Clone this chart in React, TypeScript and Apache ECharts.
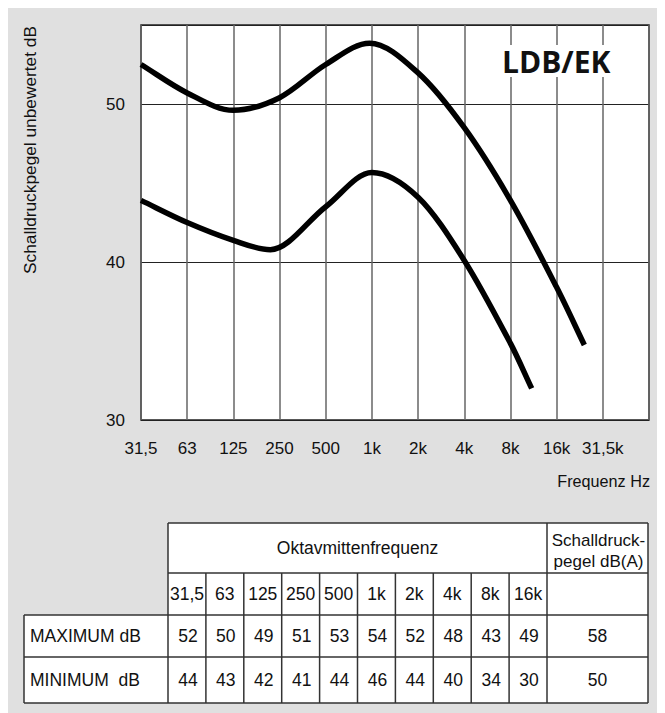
import React, { useEffect, useRef } from "react";
import * as echarts from "echarts";

// ---- data ----
const freqLabels = ["31,5", "63", "125", "250", "500", "1k", "2k", "4k", "8k", "16k", "31,5k", ""];
// curve points: [octave index, dB]
const maxCurve: [number, number][] = [
  [0, 52.5], [1, 50.7], [2, 49.6], [3, 50.4], [4, 52.5], [4.95, 53.85],
  [6, 51.97], [7, 48.5], [8, 43.9], [9, 38.4], [9.6, 34.75],
];
const minCurve: [number, number][] = [
  [0, 43.9], [1, 42.5], [2, 41.37], [2.8, 40.78], [4, 43.5], [5, 45.67],
  [6, 44.1], [7, 40.1], [8, 34.85], [8.46, 32.0],
];
const tableFreqs = ["31,5", "63", "125", "250", "500", "1k", "2k", "4k", "8k", "16k"];
const maxRow = [52, 50, 49, 51, 53, 54, 52, 48, 43, 49];
const minRow = [44, 43, 42, 41, 44, 46, 44, 40, 34, 30];
const dbA = [58, 50];
const rowLabels = ["MAXIMUM dB", "MINIMUM\u00a0\u00a0dB"];

const FONT = "'Liberation Sans', Arial, sans-serif";

// smooth cubic Hermite path through pixel points (x monotonic); flat tangent at extrema
function smoothPath(p: number[][]): string {
  const n = p.length;
  const sec: number[] = [];
  for (let i = 0; i < n - 1; i++) sec.push((p[i + 1][1] - p[i][1]) / (p[i + 1][0] - p[i][0]));
  const m: number[] = [];
  for (let i = 0; i < n; i++) {
    if (i === 0) m.push(sec[0]);
    else if (i === n - 1) m.push(sec[n - 2]);
    else if (sec[i - 1] * sec[i] <= 0) m.push(0);
    else m.push((p[i + 1][1] - p[i - 1][1]) / (p[i + 1][0] - p[i - 1][0]));
  }
  let d = `M${p[0][0]},${p[0][1]}`;
  for (let i = 0; i < n - 1; i++) {
    const h = p[i + 1][0] - p[i][0];
    const c1x = p[i][0] + h / 3, c1y = p[i][1] + (m[i] * h) / 3;
    const c2x = p[i + 1][0] - h / 3, c2y = p[i + 1][1] - (m[i + 1] * h) / 3;
    d += ` C${c1x},${c1y} ${c2x},${c2y} ${p[i + 1][0]},${p[i + 1][1]}`;
  }
  return d;
}

function curveSeries(points: [number, number][]) {
  return {
    type: "custom",
    data: points,
    z: 5,
    renderItem: (params: any, api: any) => {
      if (params.dataIndex !== 0) return null;
      const px = points.map((pt) => api.coord(pt));
      return {
        type: "path",
        shape: { pathData: smoothPath(px) },
        style: { stroke: "#000", lineWidth: 5.5, fill: null, lineCap: "butt", lineJoin: "round" },
      };
    },
  };
}

export default function App() {
  const ref = useRef<HTMLDivElement>(null);
  useEffect(() => {
    if (!ref.current) return;
    const chart = echarts.init(ref.current, undefined, { renderer: "svg" });

    // table layout (chart coords)
    const tL = 16, hL = 160, colW = 37.9, fEnd = 539, tR = 640;
    const y0 = 515, y1 = 565, y2 = 607, y3 = 649, y4 = 695;
    const lineStyle = { stroke: "#333", lineWidth: 1.5 };
    const g: any[] = [];
    g.push({ type: "rect", shape: { x: hL, y: y0, width: tR - hL, height: y2 - y0 }, style: { fill: "#fff" } });
    g.push({ type: "rect", shape: { x: tL, y: y2, width: tR - tL, height: y4 - y2 }, style: { fill: "#fff" } });
    const hline = (x1: number, x2: number, y: number) =>
      g.push({ type: "line", shape: { x1, y1: y, x2, y2: y }, style: lineStyle });
    const vline = (x: number, ya: number, yb: number) =>
      g.push({ type: "line", shape: { x1: x, y1: ya, x2: x, y2: yb }, style: lineStyle });
    hline(hL, tR, y0);
    hline(hL, tR, y1);
    hline(tL, tR, y2);
    hline(tL, tR, y3);
    hline(tL, tR, y4);
    vline(tL, y2, y4);
    vline(hL, y0, y4);
    vline(fEnd, y0, y4);
    vline(tR, y0, y4);
    for (let i = 1; i < tableFreqs.length; i++) vline(hL + i * colW, y1, y4);
    const txt = (text: string, x: number, y: number, align = "center", size = 17.5) =>
      g.push({
        type: "text",
        x, y,
        style: { text, fill: "#111", font: `${size}px ${FONT}`, align, verticalAlign: "middle" },
      });
    txt("Oktavmittenfrequenz", (hL + fEnd) / 2, (y0 + y1) / 2);
    txt("Schalldruck-", (fEnd + tR) / 2 + 1, 532, "center", 17);
    txt("pegel dB(A)", (fEnd + tR) / 2 + 1, 553, "center", 17);
    tableFreqs.forEach((f, i) => txt(f, hL + (i + 0.5) * colW, (y1 + y2) / 2));
    maxRow.forEach((v, i) => txt(String(v), hL + (i + 0.5) * colW + 1, (y2 + y3) / 2));
    minRow.forEach((v, i) => txt(String(v), hL + (i + 0.5) * colW + 1, (y3 + y4) / 2));
    txt(String(dbA[0]), (fEnd + tR) / 2, (y2 + y3) / 2);
    txt(String(dbA[1]), (fEnd + tR) / 2, (y3 + y4) / 2);
    txt(rowLabels[0], 22, (y2 + y3) / 2, "left");
    txt(rowLabels[1], 22, (y3 + y4) / 2, "left");

    // axis names & logo
    g.push({
      type: "text", x: 22, y: 142, rotation: Math.PI / 2,
      style: { text: "Schalldruckpegel unbewertet dB", fill: "#111", font: `17.3px ${FONT}`, align: "center", verticalAlign: "middle" },
    });
    txt("Frequenz Hz", 642, 473, "right", 16.2);
    g.push({ type: "rect", shape: { x: 489, y: 37, width: 118, height: 32 }, style: { fill: "#fff" }, z: 10 });
    g.push({
      type: "text", x: 494, y: 53.5, z: 11,
      style: { text: "LDB/EK", fill: "#111", font: `bold 30px 'Open Sans', ${FONT}`, align: "left", verticalAlign: "middle" },
    });

    chart.setOption({
      animation: false,
      backgroundColor: "#e0e0e0",
      grid: {
        left: 133, top: 17, width: 508, height: 395,
        show: true, backgroundColor: "#fff", borderColor: "#222", borderWidth: 1.5,
      },
      xAxis: {
        type: "value", min: 0, max: 11, interval: 1,
        axisLine: { show: false }, axisTick: { show: false },
        splitLine: { show: true, lineStyle: { color: "#666", width: 1.5 } },
        axisLabel: {
          margin: 20, color: "#111", fontSize: 17, fontFamily: FONT,
          formatter: (v: number) => freqLabels[Math.round(v)] ?? "",
        },
      },
      yAxis: {
        type: "value", min: 30, max: 55, interval: 10,
        axisLine: { show: false }, axisTick: { show: false },
        splitLine: { show: true, lineStyle: { color: "#222", width: 1 } },
        axisLabel: {
          margin: 16, color: "#111", fontSize: 17, fontFamily: FONT,
          formatter: (v: number) => (v % 10 === 0 ? String(v) : ""),
        },
      },
      series: [curveSeries(maxCurve), curveSeries(minCurve)],
      graphic: { elements: g },
    });
    return () => chart.dispose();
  }, []);
  return <div ref={ref} style={{ width: 657, height: 705 }} />;
}
